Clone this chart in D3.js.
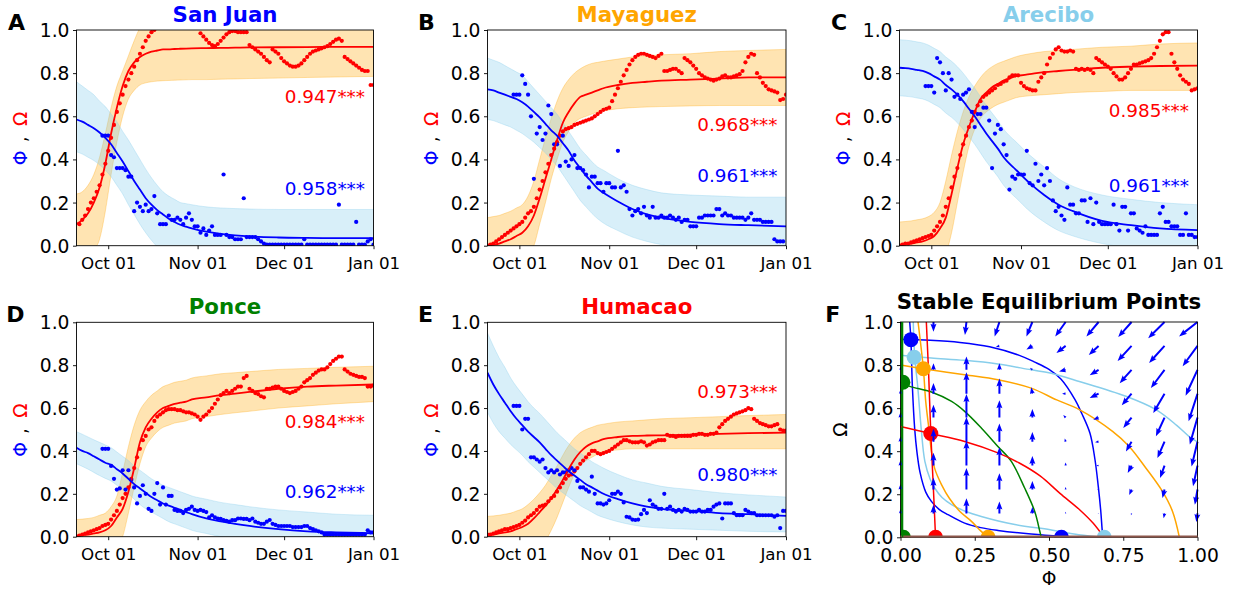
<!DOCTYPE html>
<html><head><meta charset="utf-8">
<script src="https://cdn.jsdelivr.net/npm/d3@7"></script>
<style>body{margin:0;background:#fff}svg{display:block}text{font-family:"DejaVu Sans",sans-serif}</style>
</head><body><svg id="chart" width="1241" height="593"></svg>
<script>
// ---------------- DATA ----------------
const CITIES = ["San Juan","Mayaguez","Arecibo","Ponce","Humacao"];
const CITY_COLORS = ["#0000ff","#ffa500","#87ceeb","#008000","#ff0000"];
const PANEL_LETTERS = ["A","B","C","D","E","F"];
const OMEGA_R = ["0.947***","0.968***","0.985***","0.984***","0.973***"];
const PHI_R = ["0.958***","0.961***","0.961***","0.962***","0.980***"];
const DATE_TICKS = ["2017-10-01","2017-11-01","2017-12-01","2018-01-01"];
const Y_TICKS = [0,0.2,0.4,0.6,0.8,1.0];
const PHASE_X_TICKS = [0,0.25,0.5,0.75,1.0];
const START_DATE = "2017-09-20";
const END_DATE = "2018-01-01";
const FIT_DAYS = [0,2,4,6,8,10,12,14,16,18,20,22,24,26,28,30,32,34,36,38,40,45,50,55,60,70,80,90,103];

// San Juan
const SJ_OMEGA_FIT = [0.10,0.12,0.15,0.20,0.27,0.38,0.52,0.64,0.74,0.81,0.85,0.875,0.89,0.90,0.905,0.91,0.91,0.912,0.913,0.914,0.915,0.916,0.917,0.918,0.919,0.92,0.921,0.922,0.922];
const SJ_OMEGA_LO = [-0.08,-0.07,-0.05,-0.02,0.03,0.16,0.33,0.48,0.60,0.68,0.72,0.745,0.755,0.76,0.763,0.765,0.766,0.767,0.768,0.769,0.77,0.77,0.772,0.773,0.775,0.777,0.78,0.782,0.785];
const SJ_OMEGA_HI = [0.24,0.25,0.28,0.33,0.41,0.52,0.64,0.74,0.81,0.88,0.95,1.01,1.04,1.05,1.05,1.05,1.05,1.05,1.05,1.05,1.05,1.05,1.05,1.05,1.05,1.05,1.05,1.05,1.05];
const SJ_PHI_FIT = [0.585,0.575,0.56,0.545,0.525,0.50,0.47,0.43,0.39,0.345,0.30,0.26,0.22,0.19,0.165,0.145,0.125,0.11,0.097,0.088,0.08,0.065,0.055,0.048,0.043,0.038,0.036,0.035,0.035];
const SJ_PHI_LO = [0.435,0.425,0.41,0.395,0.375,0.35,0.32,0.28,0.24,0.19,0.145,0.10,0.06,0.025,-0.005,-0.03,-0.05,-0.06,-0.07,-0.08,-0.085,-0.09,-0.1,-0.1,-0.1,-0.1,-0.1,-0.1,-0.1];
const SJ_PHI_HI = [0.76,0.74,0.72,0.70,0.67,0.645,0.61,0.575,0.53,0.49,0.445,0.40,0.355,0.315,0.28,0.25,0.23,0.215,0.20,0.195,0.19,0.18,0.175,0.172,0.17,0.168,0.168,0.168,0.168];
const SJ_OMEGA_OBS = [null,0.10,0.12,0.14,0.17,0.20,0.22,0.25,0.28,0.33,
 0.38,0.44,0.50,0.56,0.62,0.66,0.70,0.74,0.77,0.80,
 0.83,0.86,0.89,0.92,0.95,0.97,0.99,1.0,null,null,
 null,null,null,null,null,null,null,null,null,null,
 null,null,null,0.985,0.97,0.955,0.94,0.93,0.925,0.935,
 0.95,0.965,0.98,0.99,0.995,0.995,0.99,0.99,0.99,0.99,
 0.93,0.92,0.91,0.90,0.89,0.875,0.86,0.85,0.91,0.90,
 0.89,0.87,0.855,0.845,0.835,0.83,0.83,0.835,0.845,0.86,
 0.875,0.89,0.90,0.905,0.91,0.915,0.92,0.925,0.935,0.945,
 0.955,0.96,0.95,0.875,0.865,0.855,0.845,0.835,0.825,0.815,
 0.81,0.81,0.745,0.745];
const SJ_PHI_OBS = [null,null,null,null,null,null,null,null,null,0.51,
 0.51,0.51,0.42,0.41,0.36,0.36,0.36,0.35,0.32,0.32,
 0.16,0.20,0.18,0.16,0.19,0.16,0.17,0.23,0.15,0.10,
 0.10,0.10,0.14,0.12,0.12,0.13,0.12,0.10,0.13,0.15,
 0.12,0.09,0.09,0.06,0.08,0.05,0.07,0.09,0.05,0.05,
 0.05,0.33,0.05,0.04,0.04,0.03,0.03,0.03,0.22,0.04,
 0.04,0.04,0.04,0.03,0.02,0.01,0.005,0.005,0.005,0.005,
 0.005,0.005,0.005,0.005,0.005,0.005,0.005,0.005,0.005,0.03,
 0.005,0.005,0.005,0.005,0.005,0.005,0.005,0.005,0.005,0.005,
 0.005,0.19,0.005,0.005,0.005,0.005,0.005,0.11,0.005,0.005,
 0.005,0.02,0.03,0.005];

// Mayaguez
const MY_OMEGA_FIT = [0.0,0.005,0.01,0.02,0.03,0.045,0.06,0.09,0.14,0.22,0.31,0.40,0.49,0.57,0.62,0.66,0.69,0.70,0.71,0.72,0.73,0.745,0.755,0.76,0.765,0.77,0.775,0.78,0.78];
const MY_OMEGA_LO = [-0.1,-0.1,-0.1,-0.1,-0.1,-0.09,-0.07,-0.04,0.0,0.10,0.20,0.31,0.40,0.48,0.53,0.57,0.59,0.60,0.61,0.62,0.625,0.635,0.64,0.643,0.645,0.648,0.65,0.65,0.65];
const MY_OMEGA_HI = [0.13,0.135,0.14,0.15,0.16,0.175,0.19,0.23,0.30,0.40,0.50,0.59,0.67,0.73,0.77,0.80,0.82,0.835,0.845,0.85,0.855,0.865,0.875,0.88,0.885,0.89,0.90,0.905,0.91];
const MY_PHI_FIT = [0.725,0.72,0.71,0.70,0.69,0.68,0.665,0.645,0.62,0.595,0.565,0.535,0.51,0.475,0.44,0.395,0.36,0.325,0.295,0.265,0.245,0.205,0.17,0.145,0.13,0.11,0.10,0.095,0.09];
const MY_PHI_LO = [0.585,0.58,0.57,0.56,0.55,0.535,0.52,0.50,0.48,0.455,0.43,0.40,0.37,0.33,0.29,0.25,0.21,0.18,0.15,0.125,0.105,0.07,0.04,0.02,0.005,-0.02,-0.03,-0.035,-0.04];
const MY_PHI_HI = [0.87,0.86,0.85,0.835,0.82,0.805,0.79,0.76,0.73,0.70,0.67,0.64,0.61,0.57,0.53,0.49,0.45,0.42,0.39,0.365,0.35,0.31,0.28,0.26,0.245,0.235,0.23,0.225,0.225];
const MY_OMEGA_OBS = [0.0,0.005,0.01,0.02,0.03,0.04,0.05,0.06,0.07,0.08,
 0.09,0.10,0.11,0.13,0.15,0.16,0.18,0.22,0.26,0.30,
 0.34,0.38,0.42,0.45,0.48,0.51,0.53,0.54,0.545,0.55,
 0.56,0.565,0.57,0.575,0.58,0.585,0.59,0.60,0.61,0.62,
 0.63,0.635,0.64,0.67,0.70,0.73,0.76,0.79,0.815,0.84,
 0.86,0.875,0.885,0.89,0.89,0.885,0.88,0.875,0.87,0.88,
 0.89,0.81,0.81,0.815,0.82,0.82,0.81,0.80,0.87,0.86,
 0.85,0.835,0.82,0.80,0.79,0.78,0.775,0.77,0.765,0.77,
 0.775,0.785,0.79,0.78,0.78,0.785,0.79,0.795,0.81,0.85,
 0.875,0.89,0.885,0.80,0.78,0.755,0.74,0.725,0.72,0.715,
 0.71,0.675,0.68,0.70];
const MY_PHI_OBS = [null,null,null,null,null,null,null,null,null,0.70,
 0.70,0.70,0.79,0.75,0.70,0.60,0.31,0.52,0.55,0.49,
 0.52,0.65,0.61,0.47,0.47,0.37,0.51,0.39,0.37,0.40,
 0.42,0.36,0.36,0.35,0.33,0.27,0.32,0.32,0.29,0.29,
 0.25,0.29,0.29,0.27,0.27,0.44,0.27,0.28,0.25,0.17,
 0.14,0.16,0.17,0.15,0.18,0.14,0.13,0.18,0.13,0.13,
 0.14,0.13,0.13,0.14,0.13,0.12,0.13,0.11,0.12,0.12,
 0.09,0.09,0.09,0.13,0.13,0.14,0.14,0.14,0.14,0.17,
 0.17,0.14,0.15,0.14,0.14,0.13,0.13,0.13,0.13,0.12,
 0.13,0.15,0.12,0.12,0.12,0.11,0.11,0.11,0.11,0.03,
 0.02,0.02,0.02,null];

// Arecibo
const AR_OMEGA_FIT = [0.0,0.005,0.01,0.015,0.02,0.03,0.045,0.08,0.13,0.24,0.36,0.47,0.55,0.62,0.68,0.71,0.735,0.75,0.765,0.775,0.785,0.795,0.805,0.81,0.815,0.825,0.83,0.833,0.835];
const AR_OMEGA_LO = [-0.1,-0.1,-0.1,-0.1,-0.1,-0.1,-0.1,-0.1,-0.04,0.06,0.20,0.34,0.46,0.54,0.59,0.62,0.64,0.655,0.665,0.675,0.685,0.695,0.70,0.705,0.71,0.715,0.72,0.72,0.72];
const AR_OMEGA_HI = [0.11,0.112,0.115,0.12,0.125,0.135,0.155,0.20,0.30,0.42,0.53,0.62,0.69,0.74,0.78,0.81,0.83,0.845,0.855,0.865,0.875,0.89,0.90,0.905,0.91,0.92,0.925,0.935,0.94];
const AR_PHI_FIT = [0.825,0.823,0.82,0.815,0.81,0.80,0.785,0.77,0.745,0.725,0.70,0.67,0.635,0.60,0.56,0.52,0.485,0.45,0.41,0.38,0.355,0.29,0.235,0.19,0.16,0.115,0.095,0.08,0.072];
const AR_PHI_LO = [0.695,0.693,0.69,0.685,0.68,0.67,0.655,0.64,0.615,0.595,0.57,0.54,0.505,0.47,0.43,0.39,0.355,0.32,0.28,0.25,0.225,0.16,0.11,0.07,0.045,0.01,-0.01,-0.02,-0.03];
const AR_PHI_HI = [0.955,0.953,0.95,0.945,0.94,0.93,0.915,0.90,0.875,0.855,0.83,0.80,0.765,0.73,0.69,0.65,0.615,0.58,0.54,0.51,0.485,0.42,0.365,0.31,0.275,0.235,0.215,0.20,0.19];
const AR_OMEGA_OBS = [0.0,0.005,0.01,0.01,0.015,0.02,0.025,0.03,0.035,0.04,
 0.045,0.05,0.07,0.09,0.11,0.14,0.18,0.22,0.27,0.32,
 0.36,0.42,0.47,0.51,0.55,0.58,0.62,0.65,0.67,0.69,
 0.70,0.71,0.72,0.73,0.745,0.75,0.76,0.765,0.78,0.79,
 0.79,0.79,0.755,0.74,0.73,0.725,0.72,0.72,0.76,0.78,
 0.80,0.84,0.87,0.89,0.91,0.92,0.905,0.90,0.90,0.905,
 0.90,0.82,0.815,0.82,0.815,0.82,0.815,0.80,0.87,0.86,
 0.85,0.84,0.83,0.82,0.80,0.785,0.77,0.77,0.78,0.80,
 0.82,0.84,0.84,0.845,0.85,0.855,0.86,0.87,0.89,0.92,
 0.95,0.98,0.99,0.99,0.89,0.85,0.82,0.79,0.77,0.76,
 0.75,0.72,0.725,0.73];
const AR_PHI_OBS = [null,null,null,null,null,null,null,null,null,0.74,
 0.74,0.74,0.71,0.87,0.85,0.80,0.72,0.80,0.77,0.69,
 0.70,0.68,0.70,0.71,0.725,0.62,0.55,0.61,0.61,0.64,
 0.64,0.58,0.36,0.52,0.56,0.54,0.47,0.42,0.26,0.32,
 0.31,0.33,0.33,0.33,0.44,0.29,0.28,0.38,0.30,0.33,
 0.28,0.36,0.30,0.21,0.16,0.18,0.14,0.12,0.27,0.19,
 0.19,0.15,0.15,0.21,0.21,0.11,0.22,0.10,0.20,0.11,
 0.10,0.10,0.10,0.10,0.19,0.10,0.07,0.18,0.18,0.07,
 0.15,0.15,0.08,0.07,0.06,0.09,0.05,0.05,0.05,0.05,
 0.15,0.18,0.11,0.11,0.09,0.09,0.09,0.05,0.05,0.15,
 0.05,0.05,0.04,0.04];

// Ponce
const PO_OMEGA_FIT = [0.005,0.007,0.01,0.015,0.02,0.03,0.05,0.09,0.13,0.21,0.32,0.44,0.51,0.55,0.58,0.60,0.61,0.62,0.625,0.63,0.64,0.65,0.66,0.667,0.675,0.69,0.70,0.705,0.71];
const PO_OMEGA_LO = [-0.1,-0.1,-0.1,-0.1,-0.1,-0.1,-0.1,-0.05,0.0,0.11,0.23,0.34,0.42,0.46,0.49,0.51,0.52,0.53,0.535,0.54,0.55,0.56,0.57,0.578,0.585,0.60,0.61,0.62,0.63];
const PO_OMEGA_HI = [0.08,0.082,0.085,0.09,0.10,0.11,0.14,0.19,0.30,0.42,0.52,0.59,0.63,0.66,0.68,0.70,0.71,0.72,0.725,0.73,0.74,0.75,0.76,0.765,0.77,0.78,0.785,0.79,0.795];
const PO_PHI_FIT = [0.415,0.40,0.39,0.375,0.36,0.345,0.335,0.315,0.295,0.27,0.245,0.225,0.205,0.185,0.17,0.155,0.145,0.135,0.125,0.115,0.105,0.085,0.072,0.06,0.05,0.035,0.025,0.02,0.016];
const PO_PHI_LO = [0.34,0.328,0.315,0.30,0.285,0.272,0.26,0.24,0.22,0.20,0.175,0.15,0.13,0.115,0.10,0.085,0.07,0.06,0.05,0.04,0.03,0.015,0.0,-0.01,-0.02,-0.03,-0.04,-0.045,-0.05];
const PO_PHI_HI = [0.49,0.478,0.465,0.452,0.44,0.428,0.415,0.395,0.375,0.355,0.33,0.31,0.29,0.27,0.255,0.24,0.23,0.22,0.21,0.20,0.19,0.175,0.16,0.15,0.14,0.125,0.115,0.105,0.10];
const PO_OMEGA_OBS = [0.0,0.005,0.01,0.015,0.02,0.025,0.03,0.035,0.04,0.05,
 0.055,0.06,0.08,0.10,0.12,0.15,0.18,0.20,0.23,0.27,
 0.32,0.37,0.41,0.45,0.47,0.50,0.51,0.54,0.56,0.57,
 0.58,0.59,0.595,0.595,0.595,0.59,0.59,0.585,0.58,0.58,
 0.575,0.57,0.56,0.545,0.56,0.57,0.585,0.60,0.62,0.64,
 0.66,0.67,0.68,0.67,0.68,0.69,0.70,0.70,0.74,0.75,
 0.69,0.68,0.67,0.665,0.655,0.65,0.69,0.69,0.695,0.70,
 0.70,0.69,0.68,0.675,0.67,0.675,0.68,0.69,0.70,0.72,
 0.73,0.74,0.755,0.765,0.775,0.78,0.78,0.79,0.805,0.82,
 0.83,0.84,0.84,0.78,0.77,0.76,0.755,0.75,0.745,0.745,
 0.74,0.70,0.70,0.705];
const PO_PHI_OBS = [null,null,null,null,null,null,null,null,null,0.41,
 0.41,0.41,0.33,0.27,0.22,0.225,0.31,0.22,0.31,0.265,
 0.23,0.155,0.19,0.24,0.20,0.13,0.12,0.20,0.25,0.15,
 0.23,0.15,0.19,0.19,0.125,0.12,0.12,0.11,0.125,0.13,
 0.14,0.125,0.12,0.125,0.12,0.115,0.09,0.10,0.09,0.085,
 0.083,0.077,0.074,0.07,0.077,0.077,0.085,0.085,0.083,0.083,
 0.077,0.085,0.07,0.065,0.06,0.06,0.07,0.078,0.06,0.055,
 0.05,0.05,0.05,0.05,0.05,0.045,0.045,0.045,0.045,0.05,
 0.05,0.04,0.035,0.03,0.025,0.02,0.01,0.01,0.01,0.01,
 0.01,0.01,0.01,0.01,0.01,0.01,0.01,0.01,0.01,0.01,
 0.01,0.03,0.02,0.02];

// Humacao
const HU_OMEGA_FIT = [0.005,0.01,0.015,0.02,0.025,0.035,0.045,0.06,0.085,0.115,0.145,0.18,0.22,0.265,0.315,0.36,0.395,0.42,0.435,0.445,0.455,0.465,0.47,0.472,0.473,0.476,0.48,0.483,0.485];
const HU_OMEGA_LO = [-0.1,-0.1,-0.1,-0.1,-0.1,-0.1,-0.1,-0.1,-0.1,-0.06,-0.02,0.03,0.09,0.16,0.23,0.29,0.33,0.355,0.37,0.385,0.395,0.405,0.41,0.41,0.41,0.41,0.41,0.41,0.41];
const HU_OMEGA_HI = [0.095,0.097,0.10,0.105,0.11,0.12,0.13,0.15,0.175,0.205,0.24,0.285,0.33,0.38,0.425,0.46,0.485,0.50,0.51,0.52,0.525,0.535,0.54,0.545,0.55,0.555,0.56,0.565,0.57];
const HU_PHI_FIT = [0.765,0.71,0.665,0.625,0.585,0.55,0.52,0.49,0.465,0.44,0.41,0.38,0.355,0.33,0.305,0.285,0.265,0.245,0.23,0.215,0.20,0.175,0.155,0.14,0.13,0.12,0.11,0.105,0.097];
const HU_PHI_LO = [0.58,0.53,0.49,0.46,0.43,0.405,0.38,0.35,0.325,0.30,0.275,0.25,0.225,0.205,0.185,0.165,0.145,0.13,0.115,0.10,0.09,0.07,0.055,0.045,0.04,0.035,0.03,0.025,0.022];
const HU_PHI_HI = [0.95,0.89,0.835,0.79,0.74,0.70,0.665,0.63,0.60,0.575,0.545,0.515,0.485,0.46,0.435,0.41,0.39,0.37,0.35,0.335,0.32,0.29,0.265,0.25,0.235,0.22,0.205,0.195,0.185];
const HU_OMEGA_OBS = [0.01,0.01,0.015,0.02,0.025,0.03,0.035,0.035,0.04,0.045,
 0.05,0.055,0.065,0.075,0.09,0.10,0.11,0.125,0.14,0.145,
 0.15,0.165,0.18,0.19,0.21,0.23,0.25,0.27,0.285,0.29,
 0.305,0.32,0.34,0.355,0.37,0.385,0.40,0.40,0.39,0.385,
 0.39,0.395,0.40,0.41,0.42,0.43,0.44,0.45,0.45,0.445,
 0.44,0.44,0.44,0.445,0.44,0.425,0.43,0.44,0.445,0.45,
 0.45,0.45,0.475,0.47,0.47,0.465,0.47,0.47,0.47,0.47,
 0.47,0.475,0.475,0.48,0.48,0.475,0.475,0.48,0.48,0.485,
 0.51,0.525,0.54,0.55,0.56,0.57,0.575,0.58,0.585,0.59,
 0.60,0.595,0.55,0.54,0.53,0.525,0.52,0.515,0.515,0.52,
 0.525,0.50,0.495,0.495];
const HU_PHI_OBS = [null,null,null,null,null,null,null,null,null,0.61,
 0.61,0.61,0.50,0.55,0.55,0.37,0.37,0.36,0.35,0.36,
 0.32,0.30,0.31,0.30,0.31,0.29,0.30,0.30,0.31,0.32,
 0.31,0.26,0.23,0.23,0.22,0.21,0.28,0.20,0.155,0.155,
 0.15,0.155,0.17,0.20,0.20,0.21,0.20,0.16,0.093,0.09,
 0.08,0.078,0.08,0.105,0.125,0.11,0.17,0.15,0.14,0.13,
 0.13,0.20,0.13,0.14,0.125,0.117,0.125,0.117,0.13,0.125,
 0.117,0.117,0.117,0.125,0.117,0.117,0.125,0.125,0.14,0.15,
 0.155,0.085,0.155,0.155,0.155,0.11,0.10,0.10,0.10,0.125,
 0.117,0.11,0.11,0.10,0.10,0.10,0.10,0.10,0.10,0.093,
 0.10,0.04,0.12,0.12];

// Phase plane (panel F)
const PHASE_TITLE = "Stable Equilibrium Points";
const QUIVER_GRID = [0,0.111,0.222,0.333,0.444,0.556,0.667,0.778,0.889,1.0];
// rows: Omega index 0..9 (bottom to top), columns: Phi index 0..9
const QUIVER_U = [
 [0,0,0,0,0,0,0,0,0,0],
 [0,0,0,0,0,0,-0.003,-0.002,-0.003,-0.004],
 [0,0,0,0,0,0,-0.005,-0.008,-0.007,-0.009],
 [0,0,0,0,0,0,-0.008,-0.013,-0.015,-0.015],
 [0,0,0,0,0,-0.003,-0.012,-0.019,-0.024,-0.02],
 [0,0,0,0,0,-0.008,-0.018,-0.028,-0.029,-0.026],
 [0,0,0,0,-0.004,-0.012,-0.03,-0.033,-0.038,-0.03],
 [0,0,0,0,-0.008,-0.022,-0.03,-0.04,-0.046,-0.04],
 [0,0,0,-0.012,-0.02,-0.031,-0.033,-0.047,-0.052,-0.05],
 [0,0,-0.005,-0.016,-0.02,-0.035,-0.041,-0.045,-0.055,-0.062]];
const QUIVER_V = [
 [0,0,0,0,0,0,0,0,0,0],
 [0.02,0.04,0.07,0.055,0.03,0.008,0,-0.009,-0.022,-0.04],
 [0.025,0.055,0.10,0.075,0.04,0.012,0,-0.025,-0.04,-0.071],
 [0.025,0.06,0.115,0.085,0.045,0.015,0,-0.034,-0.057,-0.096],
 [0.025,0.06,0.115,0.085,0.045,0.015,-0.002,-0.045,-0.076,-0.115],
 [0.025,0.06,0.11,0.08,0.04,0.012,-0.01,-0.048,-0.087,-0.125],
 [0.02,0.05,0.10,0.07,0.03,0,-0.02,-0.054,-0.09,-0.128],
 [0.015,0.03,0.062,0.03,0.01,-0.008,-0.025,-0.062,-0.085,-0.12],
 [0,0,0,-0.005,-0.017,-0.033,-0.042,-0.07,-0.079,-0.094],
 [-0.01,-0.045,-0.06,-0.067,-0.067,-0.067,-0.067,-0.07,-0.075,-0.067]];

const SJ_PHI_NULL = [[0.031,1.0],[0.035,0.918],[0.04,0.70],[0.048,0.5],[0.055,0.4],[0.066,0.3],[0.085,0.21],[0.104,0.167],[0.13,0.13],[0.16,0.105],[0.216,0.066],[0.27,0.045],[0.328,0.032],[0.44,0.015],[0.546,0.004],[0.6,0.0]];
const SJ_OMEGA_NULL = [[0,0.92],[0.035,0.918],[0.1,0.915],[0.2,0.905],[0.3,0.885],[0.4,0.845],[0.45,0.815],[0.5,0.78],[0.54,0.735],[0.588,0.638],[0.61,0.576],[0.638,0.483],[0.655,0.359],[0.666,0.235],[0.674,0.127],[0.68,0.019],[0.682,0]];
const MY_PHI_NULL = [[0.059,1.0],[0.077,0.783],[0.085,0.63],[0.096,0.5],[0.104,0.4],[0.115,0.32],[0.138,0.245],[0.165,0.18],[0.2,0.12],[0.239,0.074],[0.27,0.03],[0.295,0.0]];
const MY_OMEGA_NULL = [[0,0.80],[0.077,0.783],[0.216,0.755],[0.328,0.732],[0.44,0.693],[0.526,0.638],[0.602,0.593],[0.714,0.492],[0.77,0.422],[0.826,0.322],[0.882,0.213],[0.916,0.12],[0.939,0.0]];
const AR_PHI_NULL = [[0.043,1.0],[0.048,0.836],[0.058,0.70],[0.07,0.5],[0.082,0.353],[0.1,0.27],[0.115,0.229],[0.14,0.185],[0.172,0.152],[0.22,0.12],[0.272,0.097],[0.385,0.059],[0.504,0.035],[0.6,0.012],[0.685,0.0]];
const AR_OMEGA_NULL = [[0,0.845],[0.104,0.833],[0.216,0.822],[0.328,0.805],[0.44,0.778],[0.504,0.763],[0.602,0.724],[0.759,0.655],[0.86,0.593],[0.93,0.52],[0.972,0.468],[1.0,0.443]];
const PO_PHI_NULL = [[0.004,1.0],[0.004,0.0]];
const PO_OMEGA_NULL = [[0,0.72],[0.031,0.701],[0.104,0.675],[0.172,0.631],[0.216,0.585],[0.272,0.508],[0.328,0.422],[0.373,0.353],[0.418,0.229],[0.452,0.12],[0.469,0.028],[0.474,0]];
const HU_PHI_NULL = [[0.087,1.0],[0.095,0.75],[0.102,0.482],[0.11,0.25],[0.118,0.0]];
const HU_OMEGA_NULL = [[0,0.515],[0.102,0.482],[0.216,0.445],[0.328,0.392],[0.40,0.345],[0.47,0.285],[0.537,0.204],[0.604,0.127],[0.649,0.065],[0.685,0]];
const ZERO_OMEGA_LINE = [[0,0],[1,0]];
// equilibria [phi, omega]: upper and lower per city
const EQ_UPPER = [[0.035,0.918],[0.077,0.783],[0.046,0.836],[0.008,0.72],[0.102,0.482]];
const EQ_LOWER = [[0.542,0],[0.295,0],[0.686,0],[0.01,0],[0.118,0]];

// ---------------- LAYOUT ----------------
const TIME_LAYOUT = [
 {x0:76.5,x1:373.5,y0:30,y1:245.7,letterX:8,omAnn:0.663,phAnn:0.235},
 {x0:487.5,x1:786,y0:30,y1:245.7,letterX:418,omAnn:0.533,phAnn:0.294},
 {x0:899.5,x1:1197.5,y0:30,y1:245.7,letterX:831,omAnn:0.595,phAnn:0.25},
 {x0:76.5,x1:373.5,y0:322.3,y1:536.7,letterX:6.3,omAnn:0.506,phAnn:0.179},
 {x0:487.5,x1:786,y0:322.3,y1:536.7,letterX:418,omAnn:0.648,phAnn:0.26}
];
const PHASE_LAYOUT = {x0:900.5,x1:1197.5,y0:322,y1:537.3,letterX:825.3};

const SERIES = [
 {om:[SJ_OMEGA_FIT,SJ_OMEGA_LO,SJ_OMEGA_HI,SJ_OMEGA_OBS], ph:[SJ_PHI_FIT,SJ_PHI_LO,SJ_PHI_HI,SJ_PHI_OBS]},
 {om:[MY_OMEGA_FIT,MY_OMEGA_LO,MY_OMEGA_HI,MY_OMEGA_OBS], ph:[MY_PHI_FIT,MY_PHI_LO,MY_PHI_HI,MY_PHI_OBS]},
 {om:[AR_OMEGA_FIT,AR_OMEGA_LO,AR_OMEGA_HI,AR_OMEGA_OBS], ph:[AR_PHI_FIT,AR_PHI_LO,AR_PHI_HI,AR_PHI_OBS]},
 {om:[PO_OMEGA_FIT,PO_OMEGA_LO,PO_OMEGA_HI,PO_OMEGA_OBS], ph:[PO_PHI_FIT,PO_PHI_LO,PO_PHI_HI,PO_PHI_OBS]},
 {om:[HU_OMEGA_FIT,HU_OMEGA_LO,HU_OMEGA_HI,HU_OMEGA_OBS], ph:[HU_PHI_FIT,HU_PHI_LO,HU_PHI_HI,HU_PHI_OBS]}
];
const NULLCLINES = [
 [SJ_PHI_NULL,SJ_OMEGA_NULL],[AR_PHI_NULL,AR_OMEGA_NULL],[MY_PHI_NULL,MY_OMEGA_NULL],[PO_PHI_NULL,PO_OMEGA_NULL],[HU_PHI_NULL,HU_OMEGA_NULL]
];
const NULL_COLOR_IDX = [0,2,1,3,4];

// ---------------- DRAW ----------------
const svg = d3.select("#chart");
const defs = svg.append("defs");
const FONT = '"DejaVu Sans", sans-serif';
const RED = "#ff0000", BLUE = "#0000ff";
const parseDay = s => new Date(s + "T00:00:00Z");
const START = parseDay(START_DATE), END = parseDay(END_DATE);
const dayDate = d => new Date(START.getTime() + d * 864e5);

function styleAxis(g, fs) {
  g.select(".domain").remove();
  g.selectAll(".tick line").attr("stroke", "#000").attr("stroke-width", 0.9);
  g.selectAll("text").attr("font-family", FONT).attr("font-size", fs).attr("fill", "#000");
}

function frame(L) {
  svg.append("rect").attr("x", L.x0).attr("y", L.y0).attr("width", L.x1 - L.x0).attr("height", L.y1 - L.y0)
    .attr("fill", "none").attr("stroke", "#000").attr("stroke-width", 0.9);
}

function clip(id, L) {
  defs.append("clipPath").attr("id", id).append("rect")
    .attr("x", L.x0).attr("y", L.y0).attr("width", L.x1 - L.x0).attr("height", L.y1 - L.y0);
}

function yLabelTime(L) {
  const cx = L.x0 - 50, cy = (L.y0 + L.y1) / 2;
  const parts = [["\u03A6", BLUE, 20], [",", "#000", 1.5], ["\u03A9", RED, -19]];
  parts.forEach(([t, c, off]) => {
    svg.append("text").attr("transform", `translate(${cx},${cy + off}) rotate(-90)`)
      .attr("text-anchor", "middle").attr("font-family", FONT).attr("font-size", 18.7)
      .attr("fill", c).text(t);
  });
}

TIME_LAYOUT.forEach((L, i) => {
  const S = SERIES[i];
  const x = d3.scaleUtc().domain([START, END]).range([L.x0, L.x1]);
  const y = d3.scaleLinear().domain([0, 1]).range([L.y1, L.y0]);
  const cid = "clip" + i;
  clip(cid, L);
  const plot = svg.append("g").attr("clip-path", `url(#${cid})`);

  const band = (lo, hi) => d3.area().curve(d3.curveMonotoneX)
    .x((d, j) => x(dayDate(FIT_DAYS[j]))).y0((d, j) => y(lo[j])).y1((d, j) => y(hi[j]));
  const line = fit => d3.line().curve(d3.curveMonotoneX)
    .x((d, j) => x(dayDate(FIT_DAYS[j]))).y((d, j) => y(fit[j]));

  plot.append("path").attr("d", band(S.om[1], S.om[2])(FIT_DAYS))
    .attr("fill", "#ffa500").attr("fill-opacity", 0.3).attr("stroke", "#ffa500").attr("stroke-opacity", 0.3).attr("stroke-width", 1);
  plot.append("path").attr("d", band(S.ph[1], S.ph[2])(FIT_DAYS))
    .attr("fill", "#87ceeb").attr("fill-opacity", 0.32).attr("stroke", "#87ceeb").attr("stroke-opacity", 0.32).attr("stroke-width", 1);

  const obsPts = arr => arr.map((v, d) => [d, v]).filter(p => p[1] !== null);
  plot.selectAll(null).data(obsPts(S.om[3])).enter().append("circle")
    .attr("cx", p => x(dayDate(p[0]))).attr("cy", p => y(p[1])).attr("r", 2.1).attr("fill", RED);
  plot.selectAll(null).data(obsPts(S.ph[3])).enter().append("circle")
    .attr("cx", p => x(dayDate(p[0]))).attr("cy", p => y(p[1])).attr("r", 2.1).attr("fill", BLUE);

  plot.append("path").attr("d", line(S.om[0])(FIT_DAYS)).attr("fill", "none").attr("stroke", RED).attr("stroke-width", 1.8);
  plot.append("path").attr("d", line(S.ph[0])(FIT_DAYS)).attr("fill", "none").attr("stroke", BLUE).attr("stroke-width", 1.8);

  frame(L);

  const gx = svg.append("g").attr("transform", `translate(0,${L.y1})`)
    .call(d3.axisBottom(x).tickValues(DATE_TICKS.map(parseDay)).tickFormat(d3.utcFormat("%b %d")).tickSize(3.5));
  styleAxis(gx, 16.7);
  gx.selectAll("text").attr("y", 23.7).attr("dy", null);

  const gy = svg.append("g").attr("transform", `translate(${L.x0},0)`)
    .call(d3.axisLeft(y).tickValues(Y_TICKS).tickFormat(d3.format(".1f")).tickSize(3.5));
  styleAxis(gy, 18.7);
  gy.selectAll("text").attr("x", -7).attr("dy", "0.35em");

  svg.append("text").attr("x", (L.x0 + L.x1) / 2).attr("y", L.y0 - 8).attr("text-anchor", "middle")
    .attr("font-family", FONT).attr("font-weight", "bold").attr("font-size", 21.3)
    .attr("fill", CITY_COLORS[i]).text(CITIES[i]);
  svg.append("text").attr("x", L.letterX).attr("y", L.y0).attr("font-family", FONT)
    .attr("font-weight", "bold").attr("font-size", 22).attr("fill", "#000").text(PANEL_LETTERS[i]);
  yLabelTime(L);

  svg.append("text").attr("x", L.x1 - 8.5).attr("y", y(L.omAnn)).attr("text-anchor", "end")
    .attr("font-family", FONT).attr("font-size", 18.4).attr("fill", RED).text(OMEGA_R[i]);
  svg.append("text").attr("x", L.x1 - 8.5).attr("y", y(L.phAnn)).attr("text-anchor", "end")
    .attr("font-family", FONT).attr("font-size", 18.4).attr("fill", BLUE).text(PHI_R[i]);
});

// ---- Panel F ----
(function () {
  const L = PHASE_LAYOUT;
  const x = d3.scaleLinear().domain([0, 1]).range([L.x0, L.x1]);
  const y = d3.scaleLinear().domain([0, 1]).range([L.y1, L.y0]);
  clip("clipF", L);
  const plot = svg.append("g").attr("clip-path", "url(#clipF)");

  // quiver arrows
  const sw = 1.0, hw = 3.0, hl = 8.0, hal = 7.0;
  function arrowD(len) {
    let s = 1, l = len;
    if (len < hl) { s = len / hl; l = hl; }
    const pts = [[0, -sw], [l - hal, -sw], [l - hl, -hw], [l, 0], [l - hl, hw], [l - hal, sw], [0, sw]];
    return "M" + pts.map(p => (p[0] * s).toFixed(2) + "," + (p[1] * s).toFixed(2)).join("L") + "Z";
  }
  const q = svg.append("g");
  QUIVER_GRID.forEach((gy, k) => {
    QUIVER_GRID.forEach((gx, j) => {
      const u = QUIVER_U[k][j], v = QUIVER_V[k][j];
      const x0 = x(gx), y0 = y(gy);
      const dx = x(gx + u) - x0, dy = y(gy + v) - y0;
      const len = Math.hypot(dx, dy);
      if (len < 0.6) return;
      const ang = Math.atan2(dy, dx) * 180 / Math.PI;
      q.append("path").attr("d", arrowD(len)).attr("fill", BLUE)
        .attr("transform", `translate(${x0},${y0}) rotate(${ang})`);
    });
  });

  const curve = d3.line().curve(d3.curveCatmullRom.alpha(0.5)).x(p => x(p[0])).y(p => y(p[1]));
  NULLCLINES.forEach((pair, n) => {
    pair.forEach(pts => {
      plot.append("path").attr("d", curve(pts)).attr("fill", "none")
        .attr("stroke", CITY_COLORS[NULL_COLOR_IDX[n]]).attr("stroke-width", 1.5);
    });
  });

  const ORDER = [0, 2, 1, 3, 4];
  ORDER.forEach(c => {
    [EQ_UPPER[c], EQ_LOWER[c]].forEach(p => {
      plot.append("circle").attr("cx", x(p[0])).attr("cy", y(p[1])).attr("r", 7.5).attr("fill", CITY_COLORS[c]);
    });
  });

  frame(L);
  svg.append("path").attr("d", d3.line().x(p => x(p[0])).y(p => y(p[1]) - 0.8)(ZERO_OMEGA_LINE))
    .attr("stroke", "#8c564b").attr("stroke-width", 1.8).attr("fill", "none");
  svg.append("path").attr("d", d3.line().x(p => x(p[0]) + 0.8).y(p => y(p[1]))(PO_PHI_NULL))
    .attr("stroke", "#008000").attr("stroke-width", 1.6).attr("fill", "none");

  const gx = svg.append("g").attr("transform", `translate(0,${L.y1})`)
    .call(d3.axisBottom(x).tickValues(PHASE_X_TICKS).tickFormat(d3.format(".2f")).tickSize(3.5));
  styleAxis(gx, 18.7);
  gx.selectAll("text").attr("y", 24.4).attr("dy", null);
  const gy = svg.append("g").attr("transform", `translate(${L.x0},0)`)
    .call(d3.axisLeft(y).tickValues(Y_TICKS).tickFormat(d3.format(".1f")).tickSize(3.5));
  styleAxis(gy, 18.7);
  gy.selectAll("text").attr("x", -7).attr("dy", "0.35em");

  svg.append("text").attr("x", (L.x0 + L.x1) / 2).attr("y", 309).attr("text-anchor", "middle")
    .attr("font-family", FONT).attr("font-weight", "bold").attr("font-size", 21.3).attr("fill", "#000").text(PHASE_TITLE);
  svg.append("text").attr("x", L.letterX).attr("y", 321.7).attr("font-family", FONT)
    .attr("font-weight", "bold").attr("font-size", 22).attr("fill", "#000").text(PANEL_LETTERS[5]);
  svg.append("text").attr("x", (L.x0 + L.x1) / 2).attr("y", 585).attr("text-anchor", "middle")
    .attr("font-family", FONT).attr("font-size", 18.7).attr("fill", "#000").text("\u03A6");
  svg.append("text").attr("transform", `translate(847,${(L.y0 + L.y1) / 2}) rotate(-90)`).attr("text-anchor", "middle")
    .attr("font-family", FONT).attr("font-size", 18.7).attr("fill", "#000").text("\u03A9");
})();
</script></body></html>
